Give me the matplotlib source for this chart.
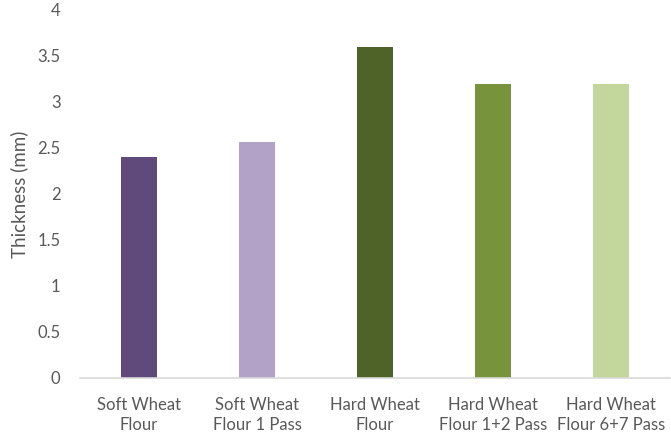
import matplotlib
matplotlib.use('Agg')
import matplotlib.pyplot as plt

# thickness of each flour sample
samples = ['Soft Wheat\nFlour', 'Soft Wheat\nFlour 1 Pass', 'Hard Wheat\nFlour',
           'Hard Wheat\nFlour 1+2 Pass', 'Hard Wheat\nFlour 6+7 Pass']
thickness = [2.4, 2.57, 3.6, 3.2, 3.2]
colors = ['#604A7B', '#B3A2C7', '#4F6228', '#77933C', '#C3D69B']
yticks = [0, 0.5, 1, 1.5, 2, 2.5, 3, 3.5, 4]

plt.rcParams['font.family'] = ['Lato', 'DejaVu Sans']
text_color = '#595959'

fig = plt.figure(figsize=(6.71, 4.37), dpi=100)
ax = fig.add_axes([80 / 671, 1 - 378 / 437, 590 / 671, 368 / 437])

x = range(len(samples))
ax.bar(x, thickness, width=0.31, color=colors)

ax.set_xlim(-0.5, len(samples) - 0.5)
ax.set_ylim(0, 4)
ax.set_yticks(yticks)
ax.set_yticklabels(['{:g}'.format(v) for v in yticks])
ax.set_xticks(list(x))
ax.set_xticklabels(samples, linespacing=1.25)

for side in ['top', 'right', 'left']:
    ax.spines[side].set_visible(False)
ax.spines['bottom'].set_color('#D9D9D9')
ax.spines['bottom'].set_linewidth(1.2)

ax.tick_params(axis='both', length=0, labelsize=12, colors=text_color)
ax.tick_params(axis='y', pad=14)
ax.tick_params(axis='x', pad=14)
ax.set_ylabel('Thickness (mm)', fontsize=13.5, color=text_color, labelpad=7)

fig.savefig('out.png', dpi=100)
